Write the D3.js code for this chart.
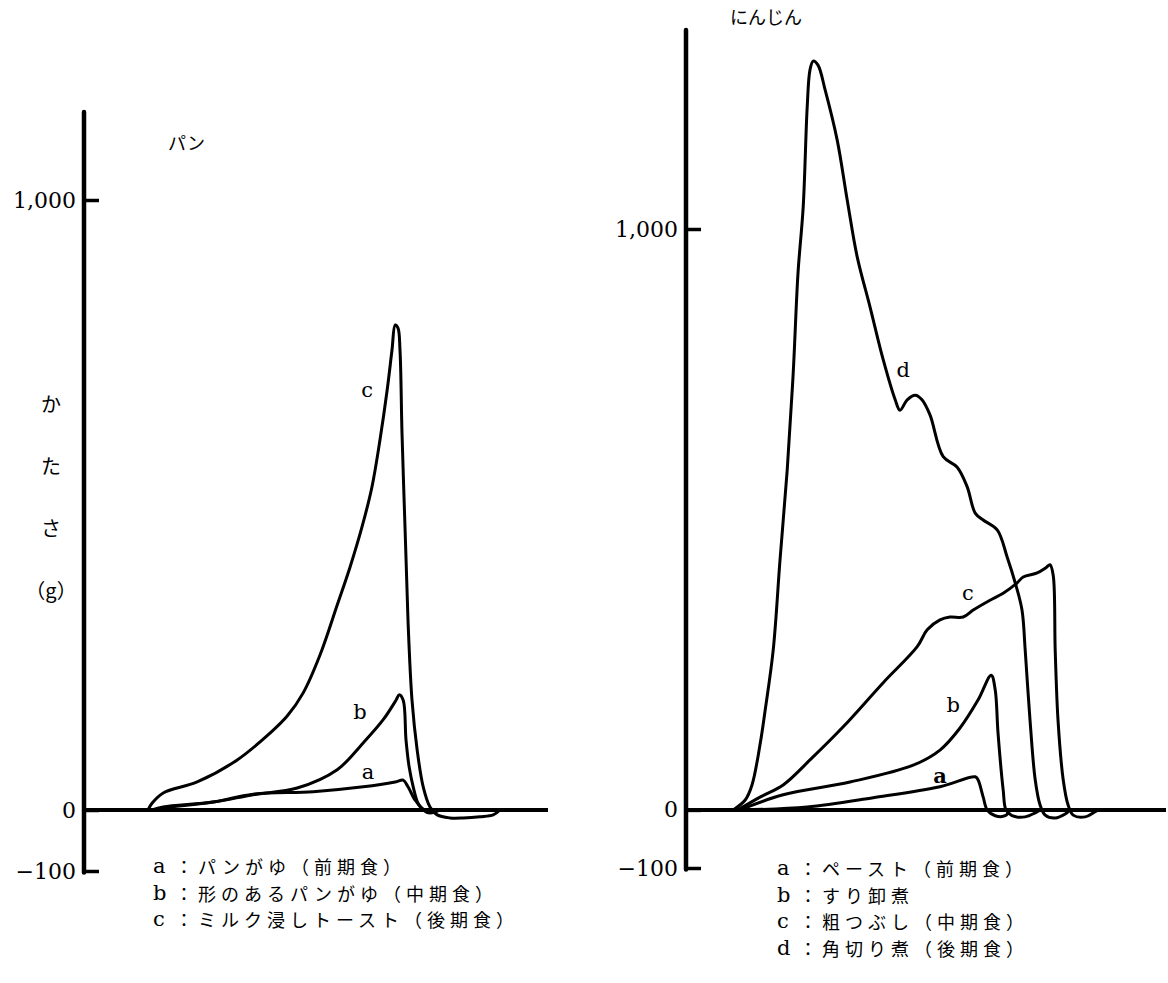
<!DOCTYPE html>
<html>
<head>
<meta charset="utf-8">
<script src="https://cdn.jsdelivr.net/npm/d3@7"></script>
<style>
body { margin: 0; background: #fff; }
svg text { fill: #000; }
</style>
</head>
<body>
<svg id="chart" width="1168" height="983"></svg>
<script>
// パン : [time, かたさ(g)]
const panA = [[17.8,0],[19.8,3],[32.3,13],[42.3,26],[57.3,30],[69.8,38],[77.8,46],[79.8,49],[81.0,38],[82.8,16],[84.5,3],[86.0,-3],[87.8,0]];
const panB = [[17.0,0],[19.8,5],[32.3,13],[42.3,25],[53.3,36],[63.3,66],[69.8,110],[74.8,148],[78.0,180],[78.8,189],[79.8,180],[80.5,115],[81.3,70],[82.3,38],[83.5,11],[84.8,0],[86.5,-5],[89.0,0]];
const panC = [[16.0,0],[17.0,11],[19.8,28],[28.3,46],[38.3,82],[46.5,126],[50.8,154],[54.8,192],[59.0,254],[63.3,336],[66.5,398],[69.5,464],[72.0,530],[74.0,607],[75.8,689],[77.0,754],[77.8,795],[78.5,790],[79.0,754],[79.5,618],[80.3,454],[81.0,311],[82.0,180],[83.3,98],[84.8,38],[86.5,5],[88.3,-8],[91.5,-13],[94.8,-13],[99.0,-11],[102.3,-8],[104.0,0]];

// にんじん
const ninA = [[13.5,0],[30.3,5],[46.8,21],[63.5,40],[72.3,57],[73.0,52],[74.3,22],[75.3,0],[77.3,-10],[79.8,-10],[81.0,0]];
const ninB = [[13.5,0],[24.3,26],[41.0,48],[56.8,77],[63.5,103],[68.5,141],[73.0,189],[76.3,232],[77.3,207],[78.0,133],[79.3,34],[80.0,0],[81.5,-10],[84.8,-12],[87.3,-5],[88.5,0]];
const ninC = [[13.0,0],[18.5,22],[24.3,43],[31.0,86],[39.3,143],[49.3,219],[57.8,281],[60.3,310],[63.5,327],[66.0,332],[69.3,332],[71.8,344],[76.0,361],[79.3,373],[82.8,391],[84.3,401],[87.8,408],[90.0,417],[91.0,422],[91.8,404],[92.3,275],[93.0,155],[94.3,52],[95.5,9],[96.8,-9],[99.8,-12],[102.3,-3],[103.5,0]];
const ninD = [[11.8,0],[14.8,17],[16.5,43],[18.5,112],[19.8,172],[21.8,275],[23.5,430],[25.3,585],[26.8,752],[28.0,924],[29.3,1038],[30.3,1210],[31.0,1274],[31.8,1289],[33.0,1282],[34.8,1239],[37.8,1153],[40.3,1050],[42.8,952],[46.0,866],[49.3,775],[52.3,706],[53.5,688],[55.3,706],[57.3,714],[59.0,706],[61.0,680],[64.3,608],[67.8,590],[70.3,556],[72.3,511],[74.3,499],[77.8,482],[80.3,435],[82.3,391],[84.0,344],[84.8,275],[86.0,155],[87.3,52],[88.5,9],[89.8,-9],[92.3,-14],[94.8,-7],[96.0,0]];

const tickValues = [-100, 0, 1000];
const yLabel = ["か", "た", "さ", "（g）"];

const panLegend = [["a", "：パンがゆ（前期食）"], ["b", "：形のあるパンがゆ（中期食）"], ["c", "：ミルク浸しトースト（後期食）"]];
const ninLegend = [["a", "：ペースト（前期食）"], ["b", "：すり卸煮"], ["c", "：粗つぶし（中期食）"], ["d", "：角切り煮（後期食）"]];

const serif = "'DejaVu Serif', 'Liberation Serif', serif";
const jp = "'Noto Sans CJK JP', 'Noto Sans', sans-serif";

const svg = d3.select("#chart");

function panel(opt) {
    const x = d3.scaleLinear().domain([0, opt.xmax]).range([opt.left, opt.right]);
    const y = d3.scaleLinear().domain([-100, 1000]).range([opt.bottom, opt.y1000]);
    const g = svg.append("g");

    // curves
    const line = d3.line().x(d => x(d[0])).y(d => y(d[1])).curve(d3.curveCatmullRom.alpha(0.5));
    opt.series.forEach(s => {
        g.append("path")
            .attr("d", line(s.data))
            .attr("fill", "none")
            .attr("stroke", "#000")
            .attr("stroke-width", 3)
            .attr("stroke-linejoin", "round");
        g.append("text")
            .attr("x", x(s.label[0]))
            .attr("y", y(s.label[1]))
            .attr("text-anchor", "middle")
            .attr("dominant-baseline", "central")
            .attr("font-family", serif)
            .attr("font-size", 21)
            .attr("font-weight", s.bold ? "bold" : "normal")
            .text(s.name);
    });

    // baseline (0)
    g.append("line")
        .attr("x1", x(0)).attr("x2", x(opt.xmax))
        .attr("y1", y(0)).attr("y2", y(0))
        .attr("stroke", "#000").attr("stroke-width", 4);

    // y axis
    const axis = d3.axisLeft(y)
        .tickValues(tickValues)
        .tickFormat(d3.format(","))
        .tickSizeInner(-15)
        .tickSizeOuter(0)
        .tickPadding(8);
    const ax = g.append("g")
        .attr("transform", "translate(" + x(0) + ",0)")
        .call(axis);
    ax.select(".domain").remove();
    ax.selectAll(".tick line").attr("stroke", "#000").attr("stroke-width", 3.5);
    ax.selectAll(".tick text")
        .attr("font-family", serif)
        .attr("font-size", 22)
        .attr("fill", "#000");
    g.append("line")
        .attr("x1", x(0)).attr("x2", x(0))
        .attr("y1", opt.top).attr("y2", y(-100) + 1.5)
        .attr("stroke", "#000").attr("stroke-width", 4.5)
        .attr("stroke-linecap", "round");

    // title
    g.append("text")
        .attr("x", opt.titleX).attr("y", opt.titleY)
        .attr("font-family", jp).attr("font-size", 18)
        .text(opt.title);

    // legend
    const lg = g.selectAll("g.legend").data(opt.legend).enter()
        .append("g").attr("class", "legend")
        .attr("transform", (d, i) => "translate(" + opt.legendX + "," + (opt.legendY + i * 26.7) + ")");
    lg.append("text")
        .attr("font-family", serif).attr("font-size", 21)
        .attr("dominant-baseline", "central")
        .text(d => d[0]);
    lg.append("text")
        .attr("x", 22)
        .attr("font-family", jp).attr("font-size", 18)
        .attr("letter-spacing", 5)
        .attr("dominant-baseline", "central")
        .text(d => d[1]);
    return g;
}

panel({
    left: 84, right: 548, xmax: 116, bottom: 871, y1000: 200, top: 112,
    title: "パン", titleX: 168, titleY: 150,
    legend: panLegend, legendX: 153, legendY: 866,
    series: [
        {name: "a", data: panA, label: [71, 62]},
        {name: "b", data: panB, label: [69, 161]},
        {name: "c", data: panC, label: [70.8, 689]}
    ]
});

panel({
    left: 686, right: 1166, xmax: 120, bottom: 868, y1000: 229, top: 30,
    title: "にんじん", titleX: 730, titleY: 24,
    legend: ninLegend, legendX: 777, legendY: 868,
    series: [
        {name: "a", data: ninA, label: [63.5, 60], bold: true},
        {name: "b", data: ninB, label: [66.8, 181]},
        {name: "c", data: ninC, label: [70.5, 373]},
        {name: "d", data: ninD, label: [54.3, 757]}
    ]
});

// y axis title (vertical, left panel)
svg.append("g").selectAll("text").data(yLabel).enter()
    .append("text")
    .attr("x", 51)
    .attr("y", (d, i) => 403 + i * 62)
    .attr("text-anchor", "middle")
    .attr("dominant-baseline", "central")
    .attr("font-family", jp)
    .attr("font-size", 20)
    .text(d => d);
</script>
</body>
</html>
